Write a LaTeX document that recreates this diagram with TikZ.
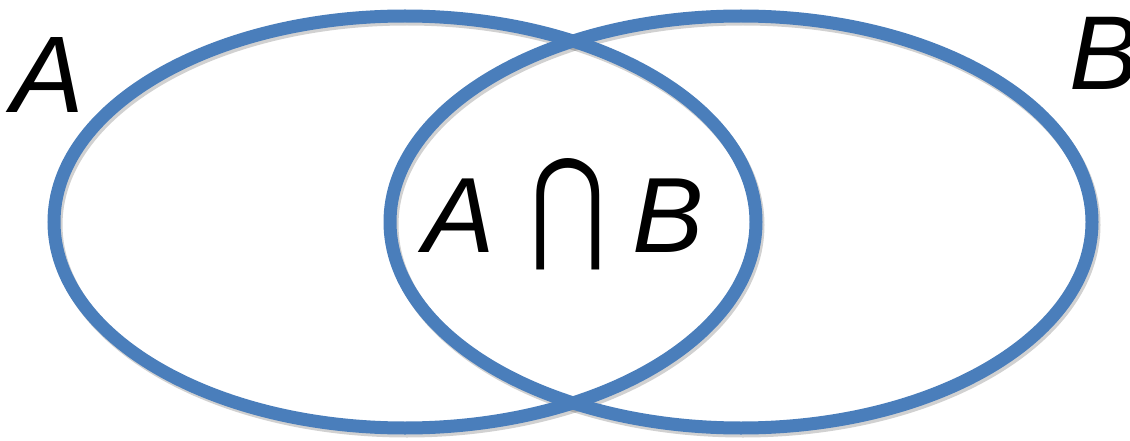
\documentclass[tikz,border=0pt]{standalone}
\usepackage{fontspec}
\setmainfont{Liberation Sans}
\newfontfamily\symfont{DejaVu Sans}
\definecolor{vennblue}{RGB}{74,126,187}
\begin{document}
\begin{tikzpicture}[x=1pt,y=-1pt,
  setring/.style={draw=vennblue,line width=13pt},
  ringshadow/.style={draw=black,opacity=0.18,line width=13pt},
  biglabel/.style={inner sep=0pt,font=\fontsize{109}{112}\selectfont\itshape},
  midlabel/.style={inner sep=0pt,font=\fontsize{107}{110}\selectfont\itshape}]
\useasboundingbox (0,0) rectangle (1130,441);
% shadows
\draw[ringshadow] (407,225) ellipse [x radius=351,y radius=206];
\draw[ringshadow] (743,225) ellipse [x radius=351,y radius=206];
% rings
\draw[setring] (405,222) ellipse [x radius=351,y radius=206];
\draw[setring] (741,222) ellipse [x radius=351,y radius=206];
\coordinate (cA) at (405,222);
\coordinate (cB) at (741,222);
% labels
\node[biglabel,anchor=base west] (la) at (11,113) {A};
\node[biglabel,font=\fontsize{105}{108}\selectfont\itshape,anchor=base west] (lb) at (1069,90) {B};
\node[midlabel,anchor=base west] (ia) at (423,252) {A};
\node[inner sep=0pt,anchor=base,font=\fontsize{92}{95}\selectfont\symfont] (cap) at (568,246) {\scalebox{1}[1.33]{⋂}};
\node[midlabel,anchor=base west] (ib) at (632,252) {B};
\end{tikzpicture}
\end{document}
